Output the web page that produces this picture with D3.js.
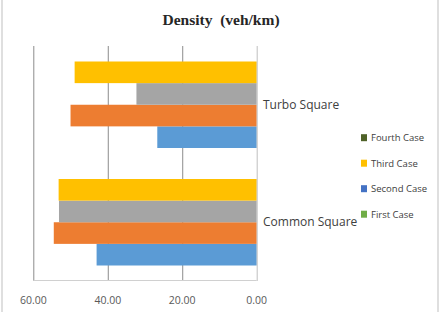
<!DOCTYPE html>
<html>
<head>
<meta charset="utf-8">
<script src="https://cdn.jsdelivr.net/npm/d3@7"></script>
<style>
  body { margin: 0; background: #fff; }
  svg { display: block; }
  .tick-label { font-family: "Open Sans", "Liberation Sans", sans-serif; font-size: 10.5px; fill: #595959; }
  .cat-label { font-family: "Open Sans", "Liberation Sans", sans-serif; font-size: 12px; fill: #404040; }
  .legend-label { font-family: "Open Sans", "Liberation Sans", sans-serif; font-size: 9.5px; fill: #404040; }
</style>
</head>
<body>
<div id="chart"></div>
<script>
// categories, top to bottom
var categories = ['Turbo Square', 'Common Square']
// series, Excel order (first series drawn at bottom of each group)
var cases = ['First Case', 'Second Case', 'Third Case', 'Fourth Case']
var firstCase  = [26.7, 43.0]
var secondCase = [50.0, 54.5]
var thirdCase  = [32.3, 53.1]
var fourthCase = [48.9, 53.2]
var barColors = ['#5b9bd5', '#ed7d31', '#a5a5a5', '#ffc000']
// legend, as it is shown (top to bottom)
var legendNames = ['Fourth Case', 'Third Case', 'Second Case', 'First Case']
var legendColors = ['#4f6228', '#ffc000', '#4472c4', '#70ad47']
var xTicks = [60, 40, 20, 0]

var values = [firstCase, secondCase, thirdCase, fourthCase]
var width = 443, height = 312

var svg = d3.select('#chart').append('svg').attr('width', width).attr('height', height)

// chart frame
svg.append('line').attr('x1', 2).attr('x2', 2).attr('y1', 0).attr('y2', height).attr('stroke', '#bfbfbf')
svg.append('line').attr('x1', 438).attr('x2', 438).attr('y1', 0).attr('y2', height).attr('stroke', '#bfbfbf')

svg.append('text')
  .attr('x', 221).attr('y', 25)
  .attr('text-anchor', 'middle')
  .style('font-family', '"Liberation Serif", "Times New Roman", serif')
  .style('font-weight', 'bold').style('font-size', '15.5px').style('fill', '#262626')
  .attr('xml:space', 'preserve')
  .text('Density  (veh/km)')

var x = d3.scaleLinear().domain([60, 0]).range([33.3, 256.7])
var y = d3.scaleBand().domain(categories).range([46, 281])
var gap = 15.5
var ySeries = d3.scaleBand().domain([3, 2, 1, 0]).range([gap, y.bandwidth() - gap])

// gridlines
svg.append('g').selectAll('line').data(xTicks.filter(function(d){ return d !== 0 })).join('line')
  .attr('x1', function(d){ return x(d) + 0.5 }).attr('x2', function(d){ return x(d) + 0.5 })
  .attr('y1', 46).attr('y2', 281)
  .attr('stroke', '#8c8c8c').attr('stroke-width', 1)

// bars
categories.forEach(function(cat, ci){
  var g = svg.append('g').attr('transform', 'translate(0,' + y(cat) + ')')
  g.selectAll('rect').data(cases).join('rect')
    .attr('x', function(d, si){ return x(values[si][ci]) })
    .attr('y', function(d, si){ return ySeries(si) })
    .attr('width', function(d, si){ return x(0) - x(values[si][ci]) })
    .attr('height', ySeries.bandwidth())
    .attr('fill', function(d, si){ return barColors[si] })
})

// axis lines
svg.append('line').attr('x1', x(0) + 0.5).attr('x2', x(0) + 0.5).attr('y1', 46).attr('y2', 281)
  .attr('stroke', '#bfbfbf')
svg.append('line').attr('x1', x(60)).attr('x2', x(0)).attr('y1', 280.5).attr('y2', 280.5)
  .attr('stroke', '#d0d0d0')

// x tick labels
svg.append('g').selectAll('text').data(xTicks).join('text')
  .attr('class', 'tick-label')
  .attr('x', function(d){ return x(d) }).attr('y', 304)
  .attr('text-anchor', 'middle')
  .text(d3.format('.2f'))

// category labels
svg.append('g').selectAll('text').data(categories).join('text')
  .attr('class', 'cat-label')
  .attr('x', 263).attr('y', function(d){ return y(d) + y.bandwidth() / 2 + 4 })
  .text(function(d){ return d })

// legend
var lg = svg.append('g').selectAll('g').data(legendNames).join('g')
  .attr('transform', function(d, i){ return 'translate(361,' + (137.7 + i * 25.5) + ')' })
lg.append('rect').attr('x', 0).attr('y', -3.5).attr('width', 6).attr('height', 7)
  .attr('fill', function(d, i){ return legendColors[i] })
lg.append('text').attr('class', 'legend-label').attr('x', 10).attr('y', 3.4)
  .text(function(d){ return d })
</script>
</body>
</html>
